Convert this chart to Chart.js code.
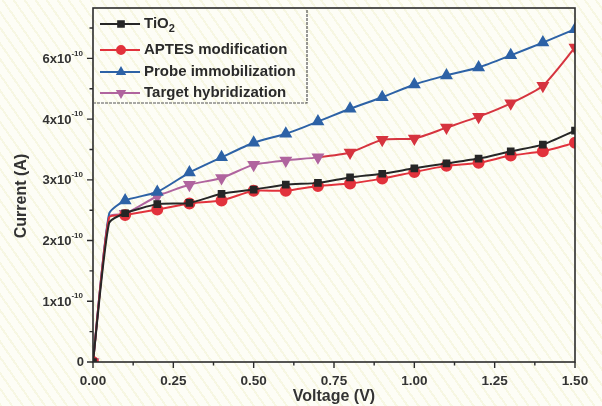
<!DOCTYPE html>
<html>
<head>
<meta charset="utf-8">
<script src="https://cdn.jsdelivr.net/npm/chart.js@4"></script>
<style>
  html, body { margin: 0; padding: 0; }
  body {
    width: 602px; height: 406px; overflow: hidden;
    background: #fdfdf6 repeating-linear-gradient(55deg, rgba(235,235,190,0.35) 0px, rgba(235,235,190,0.35) 2px, rgba(255,255,255,0) 2px, rgba(255,255,255,0) 9px);
  }
  canvas { display: block; }
</style>
</head>
<body>
<canvas id="iv_chart" width="602" height="406"></canvas>
<script>
// voltage (V)
var voltages = [0, 0.05, 0.1, 0.2, 0.3, 0.4, 0.5, 0.6, 0.7, 0.8, 0.9, 1.0, 1.1, 1.2, 1.3, 1.4, 1.5];
// current, in units of 1e-10 A
var tio2 =   [0, 2.29, 2.45, 2.60, 2.62, 2.77, 2.84, 2.92, 2.95, 3.04, 3.10, 3.19, 3.27, 3.35, 3.47, 3.58, 3.81];
var aptes =  [0, 2.38, 2.42, 2.51, 2.61, 2.66, 2.82, 2.82, 2.90, 2.94, 3.02, 3.13, 3.23, 3.28, 3.40, 3.47, 3.61];
var probe =  [0, 2.44, 2.66, 2.80, 3.12, 3.37, 3.61, 3.76, 3.96, 4.17, 4.36, 4.57, 4.72, 4.85, 5.05, 5.26, 5.48];
var target = [0, 2.40, 2.44, 2.73, 2.92, 3.03, 3.25, 3.32, 3.37, 3.45, 3.66, 3.68, 3.86, 4.04, 4.26, 4.55, 5.18];

var seriesNames = ["TiO", "APTES modification", "Probe immobilization", "Target hybridization"];

var xTicks = [0, 0.25, 0.5, 0.75, 1.0, 1.25, 1.5];
var xTickLabels = ["0.00", "0.25", "0.50", "0.75", "1.00", "1.25", "1.50"];
var yTicks = [0, 1, 2, 3, 4, 5];
var yTickLabels = ["0", "1x10", "2x10", "3x10", "4x10", "6x10"];
var yTickExp = "-10";

var BLACK = "#262626";
var RED = "#e2323c";
var BLUE = "#2d62a6";
var PURPLE = "#b0649e";
var TARGET_RED = "#d6343f";
var FONT = "'Liberation Sans', Arial, sans-serif";

function toPoints(ys) {
    return voltages.map(function (v, i) { return {x: v, y: ys[i]}; });
}
// no marker on the knee point at 0.05 V
function radii(r) {
    return voltages.map(function (v, i) { return i === 1 ? 0 : r; });
}

var targetColors = voltages.map(function (v, i) { return i >= 9 ? TARGET_RED : PURPLE; });

var frameAndTicks = {
    id: "frameAndTicks",
    afterDraw: function (chart) {
        var ctx = chart.ctx;
        var area = chart.chartArea;
        var xs = chart.scales.x;
        var ys = chart.scales.y;
        ctx.save();
        ctx.strokeStyle = "#2b2b2b";
        ctx.lineWidth = 1.6;
        ctx.strokeRect(area.left, area.top, area.right - area.left, area.bottom - area.top);

        // ticks, major + minor, outward
        ctx.lineWidth = 1.4;
        ctx.beginPath();
        for (var v = 0; v <= 1.5001; v += 0.125) {
            var px = xs.getPixelForValue(v);
            var major = Math.abs(v / 0.25 - Math.round(v / 0.25)) < 1e-6;
            ctx.moveTo(px, area.bottom);
            ctx.lineTo(px, area.bottom + (major ? 6 : 3.5));
        }
        for (var w = 0; w <= 5.8; w += 0.5) {
            var py = ys.getPixelForValue(w);
            var majorY = Math.abs(w - Math.round(w)) < 1e-6;
            ctx.moveTo(area.left, py);
            ctx.lineTo(area.left - (majorY ? 6 : 3.5), py);
        }
        ctx.stroke();

        ctx.fillStyle = "#333";
        ctx.font = "bold 13.5px " + FONT;
        ctx.textAlign = "center";
        ctx.textBaseline = "middle";
        xTicks.forEach(function (t, i) {
            ctx.fillText(xTickLabels[i], xs.getPixelForValue(t), 381);
        });

        yTicks.forEach(function (t, i) {
            var py = ys.getPixelForValue(t);
            var lab = yTickLabels[i];
            ctx.textAlign = "right";
            if (lab === "0") {
                ctx.font = "bold 13px " + FONT;
                ctx.fillText(lab, area.left - 9, py);
                return;
            }
            ctx.font = "bold 8px " + FONT;
            var expW = ctx.measureText(yTickExp).width;
            ctx.fillText(yTickExp, area.left - 10, py - 5);
            ctx.font = "bold 13px " + FONT;
            ctx.fillText(lab, area.left - 10 - expW, py + 1);
        });

        // axis titles
        ctx.font = "bold 16px " + FONT;
        ctx.textAlign = "center";
        ctx.fillText("Voltage (V)", 334, 397);
        ctx.translate(22, 196);
        ctx.rotate(-Math.PI / 2);
        ctx.fillText("Current (A)", 0, 0);
        ctx.restore();

        // legend box
        ctx.save();
        var lx0 = area.left, ly0 = area.top, lx1 = 307, ly1 = 103;
        ctx.strokeStyle = "#555";
        ctx.lineWidth = 1.2;
        ctx.setLineDash([3, 1]);
        ctx.beginPath();
        ctx.moveTo(lx0, ly1);
        ctx.lineTo(lx1, ly1);
        ctx.lineTo(lx1, ly0);
        ctx.stroke();
        ctx.setLineDash([]);
        var rows = [24, 50, 72, 93];
        chart.data.datasets.forEach(function (ds, i) {
            var y = rows[i];
            ctx.strokeStyle = ds.borderColor;
            ctx.fillStyle = ds.borderColor;
            ctx.lineWidth = 2;
            ctx.beginPath();
            ctx.moveTo(100, y);
            ctx.lineTo(140, y);
            ctx.stroke();
            Chart.helpers.drawPoint(ctx, {
                pointStyle: ds.pointStyle,
                rotation: ds.pointRotation || 0,
                radius: 4,
                borderWidth: 1
            }, 121, y);
            ctx.fillStyle = "#2a2a2a";
            ctx.font = "bold 15px " + FONT;
            ctx.textAlign = "left";
            ctx.textBaseline = "middle";
            ctx.fillText(seriesNames[i], 144, y);
            if (i === 0) {
                var tw = ctx.measureText(seriesNames[i]).width;
                ctx.font = "bold 11px " + FONT;
                ctx.fillText("2", 144 + tw, y + 5);
            }
        });
        ctx.restore();
    }
};

new Chart(document.getElementById("iv_chart"), {
    type: "line",
    data: {
        datasets: [
            {
                label: "TiO2",
                data: toPoints(tio2),
                borderColor: BLACK,
                backgroundColor: BLACK,
                pointStyle: "rect",
                pointRadius: radii(4),
                borderWidth: 2,
                tension: 0.2
            },
            {
                label: "APTES modification",
                data: toPoints(aptes),
                borderColor: RED,
                backgroundColor: RED,
                pointStyle: "circle",
                pointRadius: radii(5),
                borderWidth: 2,
                tension: 0.2
            },
            {
                label: "Probe immobilization",
                data: toPoints(probe),
                borderColor: BLUE,
                backgroundColor: BLUE,
                pointStyle: "triangle",
                pointRadius: radii(5.5),
                borderWidth: 2,
                tension: 0.2
            },
            {
                label: "Target hybridization",
                data: toPoints(target),
                borderColor: PURPLE,
                backgroundColor: targetColors,
                pointBorderColor: targetColors,
                pointStyle: "triangle",
                pointRotation: 180,
                pointRadius: radii(5.5),
                borderWidth: 2,
                tension: 0.2,
                segment: {
                    borderColor: function (c) { return c.p0DataIndex >= 8 ? TARGET_RED : PURPLE; }
                }
            }
        ]
    },
    options: {
        responsive: false,
        animation: false,
        layout: {padding: {left: 85, right: 27, top: 8, bottom: 36}},
        plugins: {legend: {display: false}, tooltip: {enabled: false}},
        scales: {
            x: {
                type: "linear", min: 0, max: 1.5,
                grid: {display: false}, border: {display: false},
                ticks: {display: false}
            },
            y: {
                type: "linear", min: 0, max: 5.83,
                grid: {display: false}, border: {display: false},
                ticks: {display: false}
            }
        }
    },
    plugins: [frameAndTicks]
});
</script>
</body>
</html>
